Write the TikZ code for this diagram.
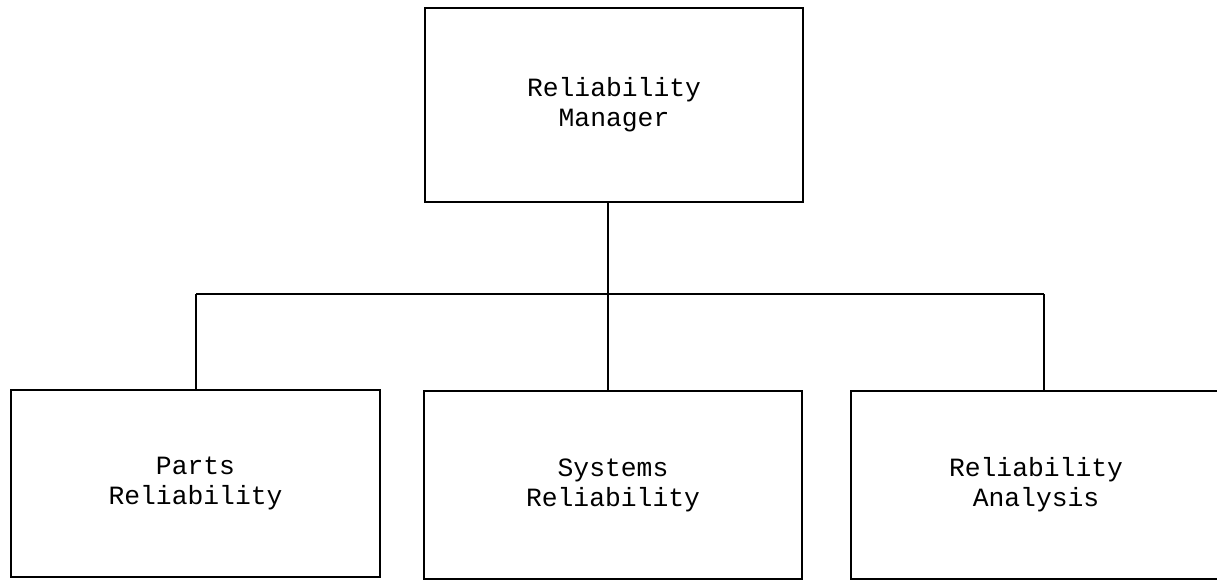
\documentclass[tikz,border=0pt]{standalone}
\usepackage{fontspec}
\setmonofont{Liberation Mono}

\begin{document}
\begin{tikzpicture}[x=0.02cm,y=-0.02cm,line width=1.6pt,
box/.style={draw,align=center,inner sep=0pt,
  font=\ttfamily\fontsize{15}{17}\selectfont}]
\useasboundingbox (0,0) rectangle (1217,582);
\clip (0,0) rectangle (1217,582);
\node(mgr)[box,minimum width=7.56cm,minimum height=3.88cm] at (614,105) {Reliability\\Manager};
\node(parts)[box,minimum width=7.38cm,minimum height=3.74cm] at (195.5,483.5) {Parts\\Reliability};
\node(sys)[box,minimum width=7.56cm,minimum height=3.76cm] at (613,485) {Systems\\Reliability};
\node(ana)[box,minimum width=7.4cm,minimum height=3.76cm] at (1036,485) {Reliability\\Analysis};
\coordinate (bus) at (608,294);
\coordinate (busL) at (196,294);
\coordinate (busR) at (1044,294);
\draw (mgr.south -| bus) -- (bus)
  (busL) -- (busR)
  (busL) -- (parts.north -| busL)
  (bus) -- (sys.north -| bus)
  (busR) -- (ana.north -| busR);
\end{tikzpicture}
\end{document}
